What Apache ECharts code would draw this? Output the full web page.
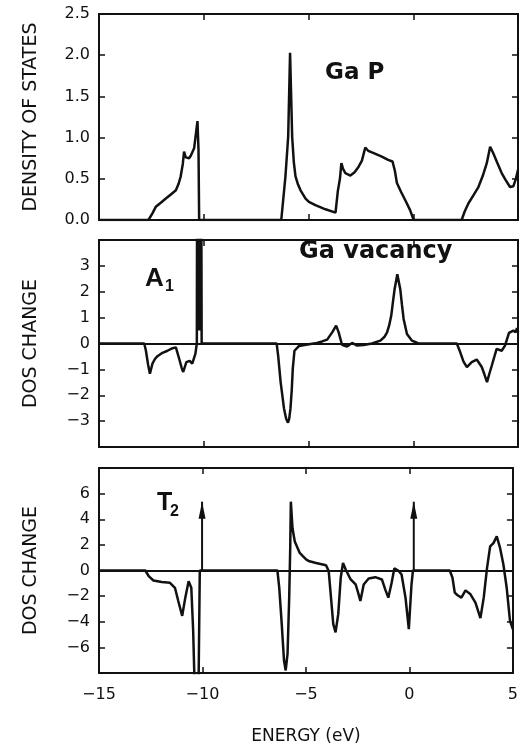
<!doctype html>
<html lang="en">
<head>
<meta charset="utf-8">
<title>GaP vacancy DOS</title>
<script src="https://cdn.jsdelivr.net/npm/echarts@6/dist/echarts.min.js"></script>
<style>
  html, body { margin: 0; padding: 0; background: #fff; }
</style>
</head>
<body>
<div id="dos" style="width:521px;height:746px;"></div>

<script>
// energy (eV), value pairs

// top panel: bulk GaP density of states
var gapDos = [
  [-15, 0], [-12.64, 0], [-12.45, 0.08], [-12.29, 0.16], [-12.05, 0.21], [-11.81, 0.26],
  [-11.57, 0.31], [-11.33, 0.36], [-11.2, 0.44], [-11.1, 0.53], [-11.0, 0.68], [-10.94, 0.83],
  [-10.86, 0.76], [-10.78, 0.78], [-10.7, 0.75], [-10.62, 0.78], [-10.54, 0.77], [-10.46, 0.87],
  [-10.38, 0.85], [-10.3, 1.2], [-10.25, 0.85], [-10.22, 0],
  [-6.3, 0], [-6.1, 0.53], [-5.97, 1.01], [-5.88, 2.03], [-5.78, 1.01], [-5.7, 0.7], [-5.62, 0.53],
  [-5.5, 0.43], [-5.38, 0.36], [-5.14, 0.26], [-4.98, 0.22], [-4.67, 0.18], [-4.19, 0.13],
  [-3.71, 0.09], [-3.6, 0.35], [-3.5, 0.5], [-3.43, 0.69], [-3.35, 0.62], [-3.24, 0.57], [-3.0, 0.54],
  [-2.8, 0.58], [-2.6, 0.65], [-2.45, 0.72], [-2.29, 0.88], [-2.15, 0.84], [-1.97, 0.82],
  [-1.5, 0.77], [-1.2, 0.73], [-0.99, 0.71], [-0.88, 0.6], [-0.78, 0.45], [-0.58, 0.34],
  [-0.38, 0.24], [-0.15, 0.12], [0.02, 0],
  [2.31, 0], [2.45, 0.1], [2.63, 0.2], [2.87, 0.3], [3.11, 0.4], [3.31, 0.53], [3.51, 0.69],
  [3.67, 0.89], [3.82, 0.81], [4.0, 0.7], [4.22, 0.57], [4.42, 0.48], [4.62, 0.4], [4.78, 0.41],
  [4.9, 0.5], [5.0, 0.61]
];

// middle panel: A1 change, Ga vacancy
var a1Change = [
  [-15, 0], [-12.84, 0], [-12.76, -0.28], [-12.66, -0.8], [-12.57, -1.17], [-12.45, -0.78],
  [-12.33, -0.6], [-12.21, -0.49], [-11.97, -0.36], [-11.73, -0.28], [-11.49, -0.18],
  [-11.33, -0.15], [-11.17, -0.6], [-11.05, -0.95], [-10.98, -1.1], [-10.83, -0.72],
  [-10.67, -0.67], [-10.55, -0.78], [-10.46, -0.85], [-10.4, -0.4], [-10.33, 0],
  [-10.29, 20], [-10.22, 0.5], [-10.16, 20], [-10.1, 0],
  [-6.52, 0], [-6.45, -0.46], [-6.33, -1.49], [-6.17, -2.51], [-6.07, -2.9], [-5.98, -3.06],
  [-5.92, -2.9], [-5.86, -2.51], [-5.8, -1.8], [-5.75, -0.97], [-5.67, -0.28], [-5.46, -0.1],
  [-4.98, -0.03], [-4.6, 0.02], [-4.35, 0.08], [-4.11, 0.15], [-3.87, 0.43], [-3.68, 0.69],
  [-3.56, 0.43], [-3.4, -0.05], [-3.16, -0.12], [-2.92, 0.02], [-2.68, -0.08], [-2.37, -0.06],
  [-1.97, 0], [-1.57, 0.11], [-1.38, 0.25], [-1.25, 0.43], [-1.15, 0.7], [-1.05, 1.08],
  [-0.97, 1.6], [-0.89, 2.1], [-0.76, 2.68], [-0.62, 2.1], [-0.54, 1.5], [-0.46, 0.95],
  [-0.3, 0.37], [-0.06, 0.11], [0.25, 0],
  [2.08, 0], [2.24, -0.33], [2.4, -0.7], [2.56, -0.91], [2.79, -0.72], [3.03, -0.62],
  [3.27, -0.91], [3.4, -1.2], [3.52, -1.49], [3.64, -1.15], [3.75, -0.85], [3.98, -0.21],
  [4.22, -0.28], [4.38, -0.08], [4.57, 0.41], [4.78, 0.5], [4.89, 0.43], [4.95, 0.6], [5.0, 0.45]
];

// bottom panel: T2 change
var t2Change = [
  [-15, 0], [-12.76, 0], [-12.6, -0.44], [-12.37, -0.78], [-11.97, -0.9], [-11.57, -0.96],
  [-11.33, -1.35], [-11.17, -2.38], [-10.98, -3.54], [-10.83, -2.12], [-10.67, -0.83],
  [-10.54, -1.35], [-10.45, -4.7], [-10.38, -9], [-10.19, -9], [-10.13, 0],
  [-6.38, 0], [-6.29, -1.35], [-6.17, -4.19], [-6.06, -7.03], [-5.98, -7.8], [-5.89, -6.5],
  [-5.81, -2.12], [-5.76, 1.76], [-5.73, 5.37], [-5.65, 3.3], [-5.54, 2.27], [-5.3, 1.37],
  [-5.14, 1.11], [-4.98, 0.85], [-4.83, 0.72], [-4.51, 0.59], [-4.03, 0.41], [-3.9, -0.05],
  [-3.79, -2.12], [-3.68, -4.19], [-3.57, -4.83], [-3.44, -3.41], [-3.32, -0.57], [-3.21, 0.59],
  [-3.08, 0.08], [-2.84, -0.7], [-2.6, -1.09], [-2.48, -1.73], [-2.37, -2.38], [-2.21, -1.09],
  [-1.97, -0.62], [-1.65, -0.52], [-1.33, -0.7], [-1.17, -1.47], [-1.02, -2.12], [-0.86, -0.96],
  [-0.73, 0.16], [-0.54, 0], [-0.38, -0.31], [-0.19, -2.12], [-0.03, -4.57], [0.1, -1.09],
  [0.17, 0],
  [1.95, 0], [2.08, -0.57], [2.19, -1.73], [2.31, -1.91], [2.51, -2.12], [2.71, -1.55],
  [2.95, -1.86], [3.19, -2.5], [3.43, -3.72], [3.59, -2.12], [3.75, 0.21], [3.9, 1.88],
  [4.06, 2.14], [4.22, 2.66], [4.38, 1.76], [4.54, 0.47], [4.7, -1.35], [4.86, -3.93], [5.0, -4.6]
];

// bound-state arrows in the T2 panel: [energy, tip height]
var t2Arrows = [[-10.02, 5.37], [0.21, 5.37]];

var energyRange = [-15, 5];
var yRanges = [[0, 2.5, 0.5], [-4, 4, 1], [-8, 8, 2]];
var yNames = ['DENSITY OF STATES', 'DOS CHANGE', 'DOS CHANGE'];

var ink = '#111';
var textFont = 'DejaVu Sans';

function minusLabel(v) {
  return v < 0 ? '\u2212' + Math.abs(v) : String(v);
}

var chart = echarts.init(document.getElementById('dos'));

var grids = [
  { left: 99, right: 3, top: 14, height: 206 },
  { left: 99, right: 3, top: 240, height: 207 },
  { left: 99, right: 3, top: 468, height: 207 }
];

var xAxes = [], yAxes = [];
grids.forEach(function (g, i) {
  ['bottom', 'top'].forEach(function (pos) {
    var isLabelled = pos === 'bottom' && i === 2;
    xAxes.push({
      gridIndex: i, type: 'value', position: pos,
      min: energyRange[0], max: energyRange[1], interval: 5,
      axisLine: { show: true, onZero: false, lineStyle: { color: ink, width: 2 } },
      axisTick: { show: true, inside: true, length: 6, lineStyle: { color: ink, width: 1.5 } },
      axisLabel: { show: isLabelled, margin: 14, color: ink, fontSize: 16, fontFamily: textFont,
        formatter: minusLabel },
      splitLine: { show: false },
      name: isLabelled ? 'ENERGY (eV)' : '',
      nameLocation: 'middle', nameGap: 55,
      nameTextStyle: { color: ink, fontSize: 17, fontFamily: textFont }
    });
  });
  var r = yRanges[i];
  ['left', 'right'].forEach(function (pos) {
    var isLeft = pos === 'left';
    yAxes.push({
      gridIndex: i, type: 'value', position: pos,
      min: r[0], max: r[1], interval: r[2],
      axisLine: { show: true, onZero: false, lineStyle: { color: ink, width: 2 } },
      axisTick: { show: true, inside: true, length: 6, lineStyle: { color: ink, width: 1.5 } },
      axisLabel: { show: isLeft, margin: 9, color: ink, fontSize: 16, fontFamily: textFont,
        formatter: function (v) {
          if (i === 0) return v.toFixed(1);
          if (v === r[0] || v === r[1]) return '';
          return minusLabel(v);
        } },
      splitLine: { show: false },
      name: isLeft ? yNames[i] : '',
      nameLocation: 'middle', nameGap: 58,
      nameTextStyle: { color: ink, fontSize: 19, fontFamily: textFont }
    });
  });
});

var zeroLine = {
  silent: true, symbol: 'none', label: { show: false },
  lineStyle: { color: ink, width: 2, type: 'solid' },
  data: [{ yAxis: 0 }]
};

function curve(i, data, withZero) {
  return {
    type: 'line', xAxisIndex: i * 2, yAxisIndex: i * 2,
    data: data, showSymbol: false, symbol: 'none', clip: true,
    lineStyle: { color: ink, width: 2.5 },
    markLine: withZero ? zeroLine : undefined,
    animation: false, z: 3
  };
}

var series = [
  curve(0, gapDos, false),
  curve(1, a1Change, true),
  curve(2, t2Change, true)
];

t2Arrows.forEach(function (a) {
  series.push({
    type: 'line', xAxisIndex: 4, yAxisIndex: 4, clip: true, symbol: 'none', showSymbol: true,
    data: [[a[0], 0], { value: [a[0], a[1]], symbol: 'triangle', symbolSize: [7, 17],
      symbolOffset: [0, '50%'] }],
    lineStyle: { color: ink, width: 2 },
    itemStyle: { color: ink },
    animation: false, z: 4
  });
});

chart.setOption({
  animation: false,
  backgroundColor: '#fff',
  grid: grids,
  xAxis: xAxes,
  yAxis: yAxes,
  series: series,
  graphic: [
    { type: 'text', x: 325, y: 73, style: { text: 'Ga P', font: 'bold 23px "DejaVu Sans"', fill: ink, align: 'left', verticalAlign: 'middle' } },
    { type: 'text', x: 299, y: 252, style: { text: 'Ga vacancy', font: 'bold 24px "DejaVu Sans"', fill: ink, align: 'left', verticalAlign: 'middle' } },
    { type: 'text', x: 145, y: 279, style: { text: 'A', font: 'bold 26px "Liberation Sans"', fill: ink, align: 'left', verticalAlign: 'middle' } },
    { type: 'text', x: 165, y: 287, style: { text: '1', font: 'bold 16px "Liberation Sans"', fill: ink, align: 'left', verticalAlign: 'middle' } },
    { type: 'text', x: 157, y: 503, style: { text: 'T', font: 'bold 25px "Liberation Sans"', fill: ink, align: 'left', verticalAlign: 'middle' } },
    { type: 'text', x: 170, y: 512, style: { text: '2', font: 'bold 16px "Liberation Sans"', fill: ink, align: 'left', verticalAlign: 'middle' } }
  ]
});
</script>
</body>
</html>
